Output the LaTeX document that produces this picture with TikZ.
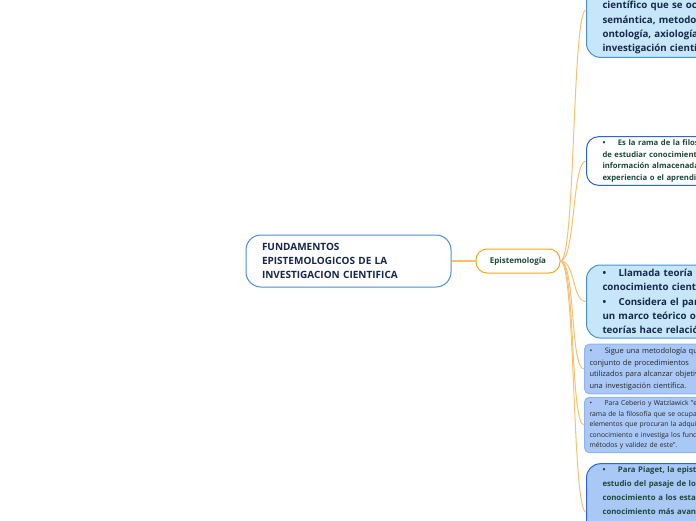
\documentclass[tikz,border=0pt]{standalone}
\usepackage{fontspec}
\setmainfont{Open Sans}
\definecolor{rootblue}{HTML}{4A90D9}
\definecolor{epiorange}{HTML}{F5A623}
\definecolor{linkorange}{HTML}{FAC06E}
\definecolor{paleblue}{HTML}{C8E6FA}
\definecolor{midblue}{HTML}{A9C8F6}
\definecolor{softedge}{HTML}{8FB4F2}
\definecolor{deepedge}{HTML}{2E62E2}
\definecolor{navytext}{HTML}{15284A}
\definecolor{greentext}{HTML}{1C4A3A}
\newcommand{\bul}{•\hspace{12.5pt}}
\tikzset{
  rootnode/.style={draw=rootblue, line width=1pt, rounded corners=15pt, fill=white,
    text width=173pt, align=left, inner xsep=16pt, minimum height=52pt,
    font=\bfseries\fontsize{10}{14}\selectfont, text=navytext},
  topicnode/.style={draw=epiorange, line width=1pt, rounded corners=11pt, fill=white,
    minimum width=84pt, minimum height=24pt,
    font=\bfseries\fontsize{8}{9}\selectfont, text=greentext},
  leaf/.style={line width=1pt, text width=230pt, align=left, inner xsep=16pt},
  bigleaf/.style={leaf, draw=rootblue, fill=paleblue, rounded corners=14pt,
    font=\bfseries\fontsize{9.7}{14.3}\selectfont, text=navytext},
  noteleaf/.style={leaf, draw=deepedge, fill=white, rounded corners=12pt,
    font=\bfseries\fontsize{7.7}{11.4}\selectfont, text=greentext},
  plainleaf/.style={leaf, draw=softedge, fill=midblue, rounded corners=5pt,
    inner xsep=5pt, text=black!85},
  link/.style={draw=linkorange, line width=1pt},
  stem/.style={draw=linkorange, line width=2pt}
}
\begin{document}
\begin{tikzpicture}[x=1pt,y=-1pt]
\useasboundingbox (0,0) rectangle (696,520);

% centre
\node[rootnode] (root) at (348.5,261) {FUNDAMENTOS\\EPISTEMOLOGICOS DE LA\\INVESTIGACION CIENTIFICA};
\node[topicnode] (epi) at (518,261) {Epistemología};

% leaves
\node[bigleaf, anchor=west] (def) at (586,10)
  {\mbox{}\\\mbox{}\\\mbox{}\\científico que se ocupa de la\\semántica, metodología,\\ontología, axiología y la\\investigación científica.};
\node[noteleaf, anchor=west, minimum height=48pt] (rama) at (586,161)
  {\bul Es la rama de la filosofía encargada\\de estudiar conocimientos e\\información almacenada por la\\experiencia o el aprendizaje.};
\node[bigleaf, anchor=west, minimum height=73pt] (teoria) at (586,301.5)
  {\bul Llamada teoría del\\conocimiento científico.\\\bul Considera el paradigma de\\un marco teórico o de\\teorías hace relación.};
\node[plainleaf, anchor=west, minimum height=48pt, font=\fontsize{7.5}{11.8}\selectfont] (metodo) at (584,369)
  {\bul Sigue una metodología que es el\\conjunto de procedimientos\\utilizados para alcanzar objetivos en\\una investigación científica.};
\node[plainleaf, anchor=west, minimum height=54pt, font=\fontsize{6.8}{10.5}\selectfont] (ceberio) at (584,425)
  {\bul Para Ceberio y Watzlawick "es la\\rama de la filosofía que se ocupa de los\\elementos que procuran la adquisición de\\conocimiento e investiga los fundamentos,\\métodos y validez de este".};
\node[leaf, draw=deepedge, fill=midblue, rounded corners=14pt, anchor=west,
  font=\bfseries\fontsize{7.8}{14}\selectfont, text=greentext] (piaget) at (586,512)
  {\bul Para Piaget, la epistemología es el\\estudio del pasaje de los estados de\\conocimiento a los estados de\\conocimiento más avanzados,\\preguntándose Piaget, por el\\\mbox{}\\\mbox{}};

% connectors
\draw[stem] (root.east) -- (epi.west);
\foreach \leafname in {def,rama,teoria,metodo,ceberio,piaget}
  \draw[link] (epi.east) .. controls +(15,0) and +(-14,0) .. (\leafname.west);
\end{tikzpicture}
\end{document}
